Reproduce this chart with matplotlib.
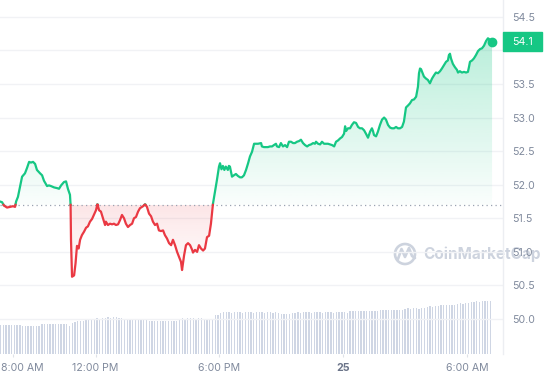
import numpy as np
import matplotlib
matplotlib.use("Agg")
import matplotlib.pyplot as plt
from matplotlib.path import Path
from matplotlib.patches import Rectangle, Circle
from matplotlib.transforms import ScaledTranslation, blended_transform_factory

plt.rcParams['font.family'] = ['Inter', 'DejaVu Sans']

# hours since midnight of the 24th
hours = [7.37, 7.47, 7.56, 7.71, 7.85, 8.00, 8.10, 8.15, 8.24, 8.34, 8.44, 8.58, 8.68, 8.78, 8.87, 8.97,
         9.07, 9.16, 9.31, 9.41, 9.50, 9.65, 9.74, 9.84, 9.99, 10.13, 10.23, 10.33, 10.47, 10.57, 10.66,
         10.76, 10.79, 10.81, 10.86, 10.96, 11.03, 11.10, 11.18, 11.25, 11.34, 11.44, 11.54, 11.63, 11.73,
         11.83, 11.92, 12.02, 12.09, 12.17, 12.26, 12.36, 12.46, 12.50, 12.60, 12.70, 12.80, 12.89, 12.99,
         13.09, 13.18, 13.28, 13.38, 13.47, 13.57, 13.67, 13.77, 13.86, 13.96, 14.06, 14.15, 14.30, 14.40,
         14.49, 14.59, 14.69, 14.78, 14.88, 14.98, 15.07, 15.17, 15.27, 15.36, 15.46, 15.56, 15.66, 15.75,
         15.85, 15.95, 16.04, 16.14, 16.19, 16.29, 16.38, 16.48, 16.58, 16.68, 16.72, 16.82, 16.92, 17.01,
         17.11, 17.21, 17.30, 17.40, 17.50, 17.59, 17.69, 17.79, 17.88, 17.98, 18.03, 18.10, 18.17, 18.24,
         18.31, 18.41, 18.46, 18.51, 18.61, 18.70, 18.80, 18.90, 19.00, 19.09, 19.19, 19.29, 19.39, 19.48,
         19.58, 19.68, 19.77, 19.87, 20.02, 20.06, 20.16, 20.26, 20.35, 20.45, 20.55, 20.64, 20.74, 20.79,
         20.89, 20.98, 21.08, 21.18, 21.28, 21.37, 21.47, 21.57, 21.66, 21.76, 21.86, 21.95, 22.05, 22.15,
         22.25, 22.34, 22.44, 22.54, 22.63, 22.68, 22.78, 22.88, 22.97, 23.07, 23.17, 23.26, 23.36, 23.46,
         23.56, 23.65, 23.75, 23.85, 23.94, 24.04, 24.09, 24.14, 24.23, 24.33, 24.42, 24.52, 24.62, 24.72,
         24.81, 24.91, 25.01, 25.10, 25.20, 25.30, 25.39, 25.44, 25.49, 25.59, 25.68, 25.78, 25.88, 25.98,
         26.07, 26.17, 26.27, 26.36, 26.46, 26.56, 26.65, 26.75, 26.85, 26.94, 27.04, 27.14, 27.23, 27.33,
         27.43, 27.53, 27.62, 27.67, 27.72, 27.77, 27.82, 27.91, 28.01, 28.10, 28.20, 28.30, 28.40, 28.49,
         28.59, 28.69, 28.78, 28.88, 28.98, 29.07, 29.12, 29.17, 29.22, 29.31, 29.41, 29.51, 29.56, 29.65,
         29.75, 29.85, 29.95, 30.04, 30.09, 30.14, 30.24, 30.33, 30.43, 30.53, 30.63, 30.72, 30.82, 30.92,
         31.01, 31.06, 31.11, 31.21]

prices = [51.75, 51.74, 51.69, 51.66, 51.67, 51.68, 51.67, 51.75, 51.82, 51.97, 52.12, 52.17, 52.25, 52.34,
          52.33, 52.34, 52.31, 52.22, 52.17, 52.14, 52.06, 51.98, 51.99, 51.98, 51.96, 51.95, 51.94, 51.99,
          52.04, 52.05, 51.94, 51.85, 51.70, 51.18, 50.63, 50.65, 50.83, 51.09, 51.05, 51.18, 51.25, 51.30,
          51.36, 51.38, 51.45, 51.49, 51.55, 51.62, 51.71, 51.62, 51.60, 51.50, 51.40, 51.45, 51.40, 51.42,
          51.41, 51.42, 51.40, 51.41, 51.47, 51.55, 51.50, 51.42, 51.37, 51.40, 51.42, 51.50, 51.52, 51.60,
          51.65, 51.68, 51.71, 51.67, 51.57, 51.53, 51.45, 51.40, 51.42, 51.32, 51.31, 51.32, 51.25, 51.20,
          51.13, 51.10, 51.18, 51.10, 51.00, 50.93, 50.85, 50.73, 50.95, 51.10, 51.13, 51.10, 51.03, 50.99,
          51.03, 51.00, 51.10, 51.05, 51.02, 51.05, 51.22, 51.24, 51.42, 51.72, 51.90, 52.07, 52.27, 52.32,
          52.23, 52.28, 52.22, 52.27, 52.22, 52.28, 52.27, 52.12, 52.14, 52.16, 52.13, 52.11, 52.11, 52.14,
          52.22, 52.32, 52.42, 52.49, 52.61, 52.61, 52.61, 52.62, 52.57, 52.56, 52.56, 52.56, 52.57, 52.57,
          52.59, 52.61, 52.57, 52.56, 52.62, 52.57, 52.59, 52.56, 52.64, 52.64, 52.62, 52.62, 52.64, 52.65,
          52.67, 52.62, 52.59, 52.57, 52.59, 52.60, 52.62, 52.61, 52.64, 52.61, 52.60, 52.64, 52.61, 52.61,
          52.61, 52.60, 52.59, 52.57, 52.64, 52.66, 52.69, 52.71, 52.76, 52.87, 52.80, 52.84, 52.84, 52.89,
          52.93, 52.92, 52.86, 52.84, 52.84, 52.81, 52.76, 52.70, 52.79, 52.84, 52.80, 52.74, 52.72, 52.79,
          52.89, 52.97, 53.00, 52.97, 52.89, 52.85, 52.84, 52.84, 52.86, 52.84, 52.84, 52.86, 52.94, 53.15,
          53.18, 53.21, 53.26, 53.27, 53.31, 53.46, 53.66, 53.73, 53.72, 53.68, 53.61, 53.58, 53.56, 53.51,
          53.58, 53.63, 53.67, 53.66, 53.69, 53.73, 53.78, 53.83, 53.85, 53.93, 53.95, 53.88, 53.80, 53.75,
          53.71, 53.67, 53.69, 53.67, 53.68, 53.67, 53.68, 53.75, 53.83, 53.85, 53.88, 53.93, 53.99, 54.02,
          54.03, 54.07, 54.14, 54.18, 54.17, 54.14, 54.13]

open_price = 51.70

# volume bars, one every 8 minutes starting 7:24 AM
vol_start = 7.40
vol_step = 8 / 60
volumes = [290, 291, 290, 289, 290, 290, 291, 290, 281, 280, 279, 280, 280, 281, 280, 302, 303, 303, 302,
           303, 301, 298, 297, 297, 298, 280, 315, 316, 330, 331, 332, 340, 340, 341, 355, 356, 355, 357,
           365, 366, 365, 366, 366, 365, 364, 342, 340, 340, 341, 340, 339, 340, 340, 338, 333, 334, 333,
           333, 332, 333, 334, 333, 333, 334, 335, 355, 356, 355, 356, 357, 356, 355, 356, 357, 355, 352,
           350, 352, 390, 392, 415, 416, 417, 416, 415, 416, 417, 416, 415, 416, 417, 416, 415, 416, 417,
           416, 415, 416, 416, 415, 416, 415, 405, 404, 405, 405, 406, 415, 416, 415, 416, 417, 416, 415,
           416, 417, 416, 415, 416, 417, 416, 415, 416, 417, 416, 416, 415, 430, 431, 430, 431, 430, 431,
           432, 430, 431, 430, 431, 440, 441, 440, 441, 440, 441, 440, 441, 442, 455, 456, 455, 457, 456,
           455, 456, 458, 475, 476, 475, 476, 478, 490, 491, 490, 492, 491, 493, 505, 506, 505, 507, 508,
           525, 525, 526, 525, 526, 527, 526, 527]

xtick_pos = [8, 12, 18, 24, 30]
xtick_labels = ["8:00 AM", "12:00 PM", "6:00 PM", "25", "6:00 AM"]
ytick_pos = [50.0, 50.5, 51.0, 51.5, 52.0, 52.5, 53.0, 53.5, 54.0, 54.5]
ytick_labels = ["50.0", "50.5", "51.0", "51.5", "52.0", "52.5", "53.0", "53.5", "", "54.5"]

GREEN = "#16c784"
RED = "#ea3943"
LABEL = "#808a9d"


def split_at_base(t, p, base):
    # add the points where the line crosses the open price
    ts, ps = [t[0]], [p[0]]
    for i in range(1, len(t)):
        if (p[i - 1] - base) * (p[i] - base) < 0:
            tc = t[i - 1] + (base - p[i - 1]) * (t[i] - t[i - 1]) / (p[i] - p[i - 1])
            ts.append(tc)
            ps.append(base)
        ts.append(t[i])
        ps.append(p[i])
    return np.array(ts), np.array(ps)


def gradient(rgb, a_bottom, a_top):
    g = np.zeros((256, 1, 4))
    g[:, 0, :3] = np.array(matplotlib.colors.to_rgb(rgb))
    g[:, 0, 3] = np.linspace(a_bottom, a_top, 256)
    return g


fig = plt.figure(figsize=(5.45, 3.8), dpi=100)
rect = [0, 26 / 380, 503 / 545, 354 / 380]
ax_vol = fig.add_axes(rect, zorder=0)
ax = fig.add_axes(rect, zorder=2, sharex=ax_vol)
ax.patch.set_visible(False)

xmin, xmax = 7.37, 31.74
ymin, ymax = 49.48, 54.75

# volume
vol_t = vol_start + vol_step * np.arange(len(volumes))
ax_vol.bar(vol_t, volumes, width=0.065, color="#cfd6e4", linewidth=0)
ax_vol.set_ylim(0, 3540)
ax_vol.axis("off")

# price line
ts, ps = split_at_base(np.array(hours), np.array(prices), open_price)
up = np.where(ps >= open_price, ps, np.nan)
down = np.where(ps <= open_price, ps, np.nan)

fill_up = ax.fill_between(ts, ps, open_price, where=ps >= open_price, interpolate=True,
                          color="none", linewidth=0)
fill_dn = ax.fill_between(ts, ps, open_price, where=ps <= open_price, interpolate=True,
                          color="none", linewidth=0)

im = ax.imshow(gradient(GREEN, 0.02, 0.30), extent=[xmin, xmax, open_price, max(prices)],
               origin="lower", aspect="auto", zorder=1)
im.set_clip_path(Path.make_compound_path(*fill_up.get_paths()), ax.transData)
im2 = ax.imshow(gradient(RED, 0.0, 0.13), extent=[xmin, xmax, min(prices), open_price],
                origin="lower", aspect="auto", zorder=1)
im2.set_clip_path(Path.make_compound_path(*fill_dn.get_paths()), ax.transData)

ax.plot(ts, up, color=GREEN, lw=1.6, solid_joinstyle="round", zorder=3)
ax.plot(ts, down, color=RED, lw=1.6, solid_joinstyle="round", zorder=3)
ax.plot(hours[-1], prices[-1], "o", color=GREEN, ms=6, zorder=4)

ax.axhline(open_price, color="#9aa2b1", lw=0.9, ls=(0, (1, 2.6)), zorder=2)

ax.set_xlim(xmin, xmax)
ax.set_ylim(ymin, ymax)

# axes styling
for side in ["top", "left", "bottom"]:
    ax.spines[side].set_visible(False)
ax.spines["right"].set_color("#eceef2")
ax.spines["right"].set_linewidth(1)

ax.yaxis.tick_right()
ax.set_yticks(ytick_pos, ytick_labels)
ax.tick_params(axis="y", length=0, pad=6.5, labelsize=7.6, labelcolor=LABEL)
ax.grid(axis="y", color="#f1f2f5", lw=1)
ax.set_axisbelow(True)

ax.set_xticks(xtick_pos, xtick_labels)
ax.tick_params(axis="x", length=2.5, width=0.8, color="#dfe2e8", pad=4.3, labelsize=7.6,
               labelcolor=LABEL)
xl = ax.get_xticklabels()
xl[0].set_transform(xl[0].get_transform() + ScaledTranslation(9.5 / 100, 0, fig.dpi_scale_trans))
xl[3].set_fontweight("bold")
xl[3].set_color("#6b7489")

# last price tag
bt = blended_transform_factory(ax.transAxes, ax.transData)
ax.add_patch(Rectangle((1.0, prices[-1] - 0.145), 39 / 503, 0.29, transform=bt,
                       color=GREEN, clip_on=False, zorder=5))
ax.text(1.0 + 19.5 / 503, prices[-1], f"{prices[-1]:.1f}", transform=bt, ha="center",
        va="center", color="white", fontsize=7.6, zorder=6, clip_on=False)

# watermark
wm = fig.add_axes([0, 0, 1, 1], zorder=1)
wm.set_xlim(0, 545)
wm.set_ylim(380, 0)
wm.axis("off")
wm_col = "#cdd3de"
wm.add_patch(Circle((405, 254), 10, fill=False, ec=wm_col, lw=1.9))
wm.plot([398, 401.5, 405, 409, 412, 415], [259, 249, 257, 248, 256, 258], color=wm_col, lw=1.9,
        solid_joinstyle="round", solid_capstyle="round")
wm.text(423, 254, "CoinMarketCap", color=wm_col, fontsize=11, fontweight="bold", va="center",
        ha="left")

fig.savefig("out.png", dpi=100)
